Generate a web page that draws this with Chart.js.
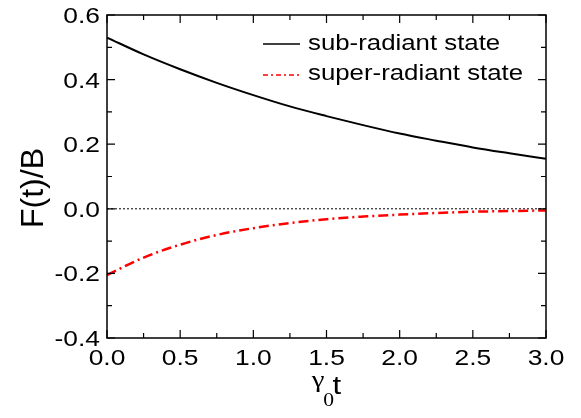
<!DOCTYPE html>
<html>
<head>
<meta charset="utf-8">
<script src="https://cdn.jsdelivr.net/npm/chart.js@4/dist/chart.umd.min.js"></script>
<style>
  html, body { margin: 0; padding: 0; background: #fff; }
  #wrap { width: 581px; height: 418px; }
</style>
</head>
<body>
<div id="wrap"><canvas id="chart" width="581" height="418"></canvas></div>
<script>
// time axis (gamma_0 t)
const tValues = [0, 0.25, 0.5, 0.75, 1.0, 1.25, 1.5, 1.75, 2.0, 2.25, 2.5, 2.75, 3.0];
// F(t)/B
const subRadiant = [0.530, 0.478, 0.432, 0.390, 0.352, 0.317, 0.287, 0.259, 0.233, 0.211, 0.190, 0.172, 0.155];
const superRadiant = [-0.205, -0.151, -0.111, -0.081, -0.060, -0.044, -0.032, -0.024, -0.018, -0.013, -0.009, -0.007, -0.005];
const seriesLabels = ['sub-radiant state', 'super-radiant state'];

const FONT = '"Liberation Sans", Arial, Helvetica, sans-serif';
const SERIF = '"Liberation Serif", "Times New Roman", serif';
const STRETCH = 1.2; // the original text is a bit wider than plain Arial

const toPoints = (ys) => tValues.map((t, i) => ({ x: t, y: ys[i] }));

// text drawn with a horizontal stretch
const putText = (ctx, text, x, y, font, align) => {
    ctx.save();
    ctx.translate(x, y);
    ctx.scale(STRETCH, 1);
    ctx.font = font;
    ctx.textAlign = align;
    ctx.textBaseline = 'alphabetic';
    ctx.fillText(text, 0, 0);
    ctx.restore();
};
const textWidth = (ctx, text, font) => {
    ctx.font = font;
    return ctx.measureText(text).width * STRETCH;
};

// axes frame, inward ticks, zero line, legend and titles
const framePlugin = {
    id: 'frame',
    beforeDatasetsDraw(chart) {
        const { ctx, chartArea: a, scales: { y } } = chart;
        const y0 = y.getPixelForValue(0);
        ctx.save();
        ctx.strokeStyle = '#000';
        ctx.lineWidth = 1;
        ctx.setLineDash([2, 2]);
        ctx.beginPath();
        ctx.moveTo(a.left, y0);
        ctx.lineTo(a.right, y0);
        ctx.stroke();
        ctx.restore();
    },
    afterDraw(chart) {
        const { ctx, chartArea: a, scales: { x, y } } = chart;
        ctx.save();
        ctx.strokeStyle = '#000';
        ctx.fillStyle = '#000';
        ctx.lineWidth = 1.5;
        ctx.strokeRect(a.left, a.top, a.right - a.left, a.bottom - a.top);

        const major = 8, minor = 5;
        const tickFont = '22px ' + FONT;
        ctx.lineWidth = 1.2;
        ctx.beginPath();
        const xt = x.ticks.map(t => t.value);
        xt.forEach((v, i) => {
            const px = x.getPixelForValue(v);
            ctx.moveTo(px, a.bottom); ctx.lineTo(px, a.bottom - major);
            ctx.moveTo(px, a.top); ctx.lineTo(px, a.top + major);
            putText(ctx, v.toFixed(1), px, a.bottom + 27, tickFont, 'center');
            if (i < xt.length - 1) {
                const pm = x.getPixelForValue((v + xt[i + 1]) / 2);
                ctx.moveTo(pm, a.bottom); ctx.lineTo(pm, a.bottom - minor);
                ctx.moveTo(pm, a.top); ctx.lineTo(pm, a.top + minor);
            }
        });
        const yt = y.ticks.map(t => t.value);
        yt.forEach((v, i) => {
            const py = y.getPixelForValue(v);
            ctx.moveTo(a.left, py); ctx.lineTo(a.left + major, py);
            ctx.moveTo(a.right, py); ctx.lineTo(a.right - major, py);
            putText(ctx, v.toFixed(1), a.left - 7, py + 8, tickFont, 'right');
            if (i < yt.length - 1) {
                const pm = y.getPixelForValue((v + yt[i + 1]) / 2);
                ctx.moveTo(a.left, pm); ctx.lineTo(a.left + minor, pm);
                ctx.moveTo(a.right, pm); ctx.lineTo(a.right - minor, pm);
            }
        });
        ctx.stroke();

        // legend inside the plot
        const legendRows = [{ line: 44, base: 50 }, { line: 75, base: 80 }];
        chart.data.datasets.forEach((ds, i) => {
            const row = legendRows[i];
            ctx.strokeStyle = ds.borderColor;
            ctx.lineWidth = 1.5;
            ctx.setLineDash(ds.legendDash || []);
            ctx.beginPath();
            ctx.moveTo(263, row.line);
            ctx.lineTo(300, row.line);
            ctx.stroke();
            ctx.setLineDash([]);
            putText(ctx, ds.label, 308, row.base, '21.5px ' + FONT, 'left');
        });

        // y title
        ctx.save();
        ctx.translate(43, 188);
        ctx.rotate(-Math.PI / 2);
        ctx.textAlign = 'center';
        ctx.textBaseline = 'alphabetic';
        ctx.font = '32px ' + FONT;
        ctx.fillText('F(t)/B', 0, 0);
        ctx.restore();

        // x title: gamma with subscript 0, then t
        const gFont = '24px ' + SERIF, sFont = '18px ' + SERIF, tFont = '26px ' + FONT;
        const gW = textWidth(ctx, 'γ', gFont) * 0.9;
        const sW = textWidth(ctx, '0', sFont) * 0.85;
        const tW = textWidth(ctx, 't', tFont);
        let sx = x.getPixelForValue(1.5) - (gW + sW + tW) / 2;
        putText(ctx, 'γ', sx, 387, gFont, 'left');
        sx += gW;
        putText(ctx, '0', sx, 406, sFont, 'left');
        sx += sW;
        putText(ctx, 't', sx, 394, tFont, 'left');
        ctx.restore();
    }
};

new Chart(document.getElementById('chart'), {
    type: 'line',
    data: {
        datasets: [
            {
                label: seriesLabels[0],
                data: toPoints(subRadiant),
                borderColor: '#000000',
                borderWidth: 2,
                pointRadius: 0,
                tension: 0.4,
                cubicInterpolationMode: 'monotone',
                fill: false
            },
            {
                label: seriesLabels[1],
                data: toPoints(superRadiant),
                borderColor: '#ff0000',
                borderWidth: 2.5,
                borderDash: [10, 4, 2, 4],
                legendDash: [5, 3, 2, 3],
                pointRadius: 0,
                tension: 0.4,
                cubicInterpolationMode: 'monotone',
                fill: false
            }
        ]
    },
    options: {
        responsive: false,
        animation: false,
        layout: { padding: { top: 15, right: 35, left: 0, bottom: 0 } },
        plugins: {
            legend: { display: false },
            tooltip: { enabled: false }
        },
        scales: {
            x: {
                type: 'linear',
                min: 0,
                max: 3,
                grid: { display: false, drawTicks: false },
                border: { display: false },
                ticks: { stepSize: 0.5, display: false },
                afterFit: s => { s.height = 80; }
            },
            y: {
                min: -0.4,
                max: 0.6,
                grid: { display: false, drawTicks: false },
                border: { display: false },
                ticks: { stepSize: 0.2, display: false },
                afterFit: s => { s.width = 107; }
            }
        }
    },
    plugins: [framePlugin]
});
</script>
</body>
</html>
